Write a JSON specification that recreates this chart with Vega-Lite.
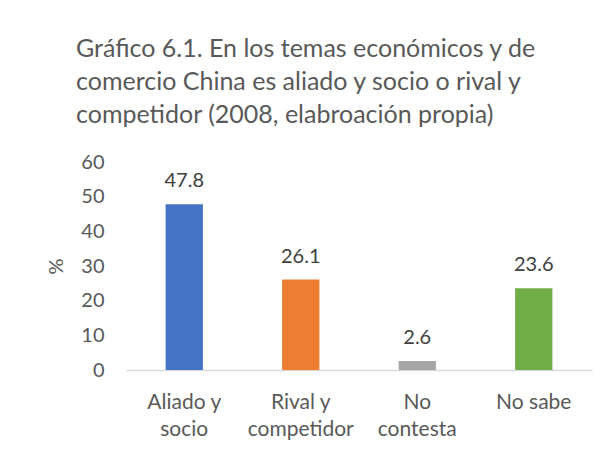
{
  "$schema": "https://vega.github.io/schema/vega-lite/v6.json",
  "width": 466,
  "height": 208,
  "autosize": {"type": "none"},
  "padding": {"left": 126, "top": 162, "right": 22, "bottom": 82},
  "background": "white",
  "title": {
    "text": ["Gráfico 6.1. En los temas económicos y de", "comercio China es aliado y socio o rival y", "competidor (2008, elabroación propia)"],
    "anchor": "start",
    "frame": "group",
    "dx": -50,
    "offset": 24,
    "font": "Lato",
    "fontSize": 25,
    "fontWeight": "normal",
    "color": "#595959",
    "lineHeight": 33
  },
  "data": {
    "values": [
      {"categoria": "Aliado y socio", "pct": 47.8},
      {"categoria": "Rival y competidor", "pct": 26.1},
      {"categoria": "No contesta", "pct": 2.6},
      {"categoria": "No sabe", "pct": 23.6}
    ]
  },
  "encoding": {
    "x": {
      "field": "categoria",
      "type": "nominal",
      "sort": null,
      "scale": {"paddingInner": 0.68, "paddingOuter": 0.34},
      "axis": {
        "title": null,
        "labelAngle": 0,
        "ticks": false,
        "domainColor": "#d9d9d9",
        "domainWidth": 1.5,
        "labelPadding": 21,
        "labelFont": "Lato",
        "labelFontSize": 21,
        "labelColor": "#595959",
        "labelLineHeight": 27,
        "labelExpr": "datum.value == 'Aliado y socio' ? ['Aliado y', 'socio'] : datum.value == 'Rival y competidor' ? ['Rival y', 'competidor'] : datum.value == 'No contesta' ? ['No', 'contesta'] : datum.value"
      }
    },
    "y": {
      "field": "pct",
      "type": "quantitative",
      "scale": {"domain": [0, 60], "nice": false},
      "axis": {
        "title": "%",
        "titleFont": "Lato",
        "titleFontSize": 20,
        "titleFontWeight": "normal",
        "titleColor": "#595959",
        "titlePadding": 14,
        "values": [0, 10, 20, 30, 40, 50, 60],
        "grid": false,
        "domain": false,
        "ticks": false,
        "labelPadding": 22,
        "labelFont": "Lato",
        "labelFontSize": 20,
        "labelColor": "#595959"
      }
    }
  },
  "layer": [
    {
      "mark": {"type": "bar"},
      "encoding": {
        "color": {
          "field": "categoria",
          "type": "nominal",
          "sort": null,
          "scale": {"domain": ["Aliado y socio", "Rival y competidor", "No contesta", "No sabe"], "range": ["#4472C4", "#ED7D31", "#A5A5A5", "#70AD47"]},
          "legend": null
        }
      }
    },
    {
      "mark": {"type": "text", "baseline": "bottom", "dy": -13, "font": "Lato", "fontSize": 20, "color": "#404040"},
      "encoding": {"text": {"field": "pct", "type": "quantitative", "format": ".1f"}}
    }
  ],
  "view": {"stroke": null}
}
